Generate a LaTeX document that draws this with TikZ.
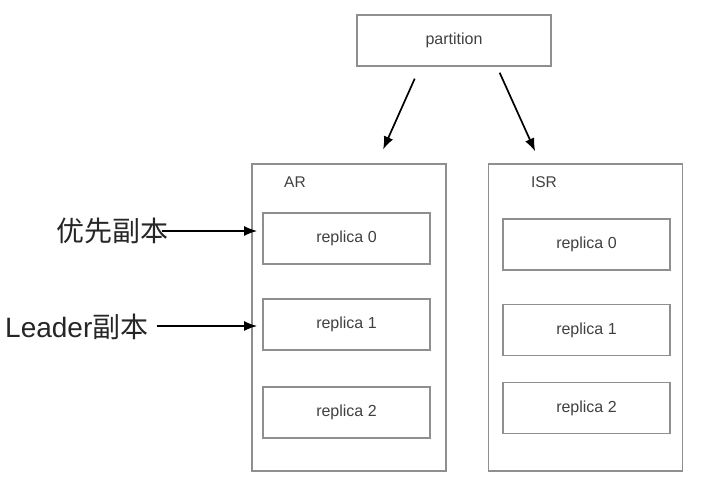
\documentclass[tikz,border=0pt]{standalone}
\usepackage{fontspec}
\setmainfont{Liberation Sans}
\newfontfamily\cjk{Noto Sans CJK SC}
\usetikzlibrary{arrows.meta}
\definecolor{boxgray}{HTML}{8F8F8F}
\definecolor{txtgray}{HTML}{404040}
\tikzset{
	box/.style={draw=boxgray, line width=1.6pt, rectangle, inner sep=0pt, text=txtgray, font=\fontsize{16}{18}\selectfont},
	holder/.style={box, minimum width=194pt, minimum height=307pt},
	arr/.style={line width=1.7pt, -{Latex[length=13pt,width=10pt]}},
	side/.style={font=\fontsize{28}{30}\selectfont, text=black!85, inner sep=0pt, anchor=west}
}

\begin{document}
\begin{tikzpicture}[x=1pt, y=-1pt]
		%%%%% START %%%%%
		\useasboundingbox (0, 0) rectangle (720, 491);
		
		\node[box, minimum width=194pt, minimum height=51pt] (part) at (454, 40.5) {partition};
		
		\node[holder] (ar) at (349, 317.5) {};
		\node[holder] (isr) at (585.5, 317.5) {};
		\node[box, draw=none, font=\fontsize{15.5}{18}\selectfont] (arlbl) at (295, 182) {AR};
		\node[box, draw=none, font=\fontsize{15.5}{18}\selectfont] (isrlbl) at (544, 182) {ISR};
		
		\node[box, minimum width=167pt, minimum height=51pt] (ar0) at (346.5, 238.5) {replica 0};
		\node[box, minimum width=167pt, minimum height=51pt] (ar1) at (346.5, 324.5) {replica 1};
		\node[box, minimum width=167pt, minimum height=51pt] (ar2) at (346.5, 412.5) {replica 2};
		
		\node[box, minimum width=167pt, minimum height=51pt] (isr0) at (586.5, 244.5) {replica 0};
		\node[box, minimum width=167pt, minimum height=51pt] (isr1) at (586.5, 330) {replica 1};
		\node[box, minimum width=167pt, minimum height=51pt] (isr2) at (586.5, 408) {replica 2};
		
		\draw[arr, shorten <=13pt, shorten >=15pt] ([xshift=-34pt]part.south) -- ([xshift=28pt]ar.north);
		\draw[arr, shorten <=6.5pt, shorten >=13pt] ([xshift=43pt]part.south) -- ([xshift=-45pt]isr.north);
		
		\node[side] (pref) at (56, 231) {\cjk 优先副本};
		\node[side] (lead) at (5, 327) {Leader\cjk 副本};
		
		\draw[arr, shorten >=5pt] ([xshift=-6pt]pref.east) -- (pref.east -| ar0.west);
		\draw[arr, shorten >=5pt] ([xshift=8pt, yshift=1pt]lead.east) -- ([yshift=1pt]lead.east -| ar1.west);
		%%%%% END %%%%%
	\end{tikzpicture}
\end{document}
